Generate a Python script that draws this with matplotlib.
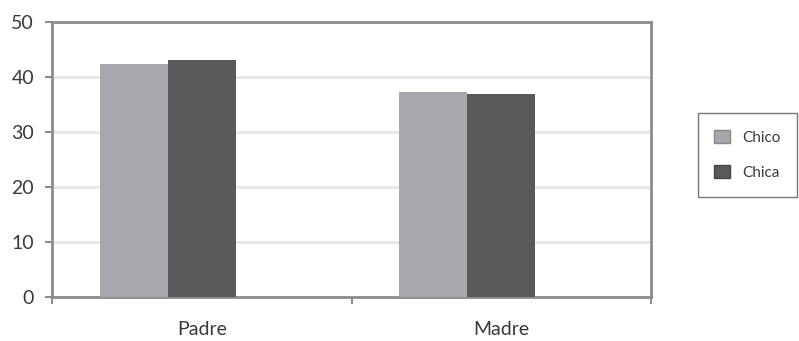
import numpy as np
import matplotlib.pyplot as plt
from matplotlib.patches import Patch

# Datos por progenitor
categorias = ['Padre', 'Madre']
chico = [42.4, 37.3]
chica = [43.1, 36.9]
yticks = [0, 10, 20, 30, 40, 50]

c_chico = '#a7a8ab'
c_chica = '#58595b'
gris = '#8c8c8c'

plt.rcParams['font.family'] = ['Lato', 'DejaVu Sans']

fig = plt.figure(figsize=(7.99, 3.41), dpi=100)
ax = fig.add_axes([52 / 799, 44 / 341, 599 / 799, 275 / 341])

x = np.arange(len(categorias)) + 0.5
w = 0.2267
ax.bar(x - w, chico, width=w, align='center', color=c_chico, zorder=3)
ax.bar(x, chica, width=w, align='center', color=c_chica, zorder=3)

ax.set_xlim(0, 2)
ax.set_ylim(0, 50)
ax.set_yticks(yticks)
ax.set_yticklabels([str(v) for v in yticks])
ax.set_xticks([0, 1, 2])
ax.set_xticklabels([])
ax.set_xticks(x, minor=True)
ax.set_xticklabels(categorias, minor=True)
ax.tick_params(axis='x', which='minor', length=0, pad=17)
ax.tick_params(axis='x', which='major', length=5, width=1.5, color=gris, direction='out')
ax.tick_params(axis='y', length=5, width=1.5, color=gris, pad=8)
for lbl in ax.get_yticklabels() + ax.get_xticklabels(minor=True):
    lbl.set_fontsize(14)
    lbl.set_color('#3a3a3a')

ax.yaxis.grid(True, color='#e6e6e6', linewidth=2, zorder=0)
ax.set_axisbelow(True)
for s in ax.spines.values():
    s.set_color(gris)
    s.set_linewidth(2)

handles = [Patch(facecolor=c_chico, edgecolor='#888888', label='Chico'),
           Patch(facecolor=c_chica, edgecolor='#444444', label='Chica')]
leg = fig.legend(handles=handles, loc='upper right',
                 bbox_to_anchor=(797 / 799, 1 - 113 / 341),
                 frameon=True, fancybox=False, fontsize=11,
                 handlelength=1.0, handleheight=1.0, handletextpad=0.8,
                 borderpad=1.1, labelspacing=1.3, borderaxespad=0)
leg.get_frame().set_edgecolor('#555555')
leg.get_frame().set_linewidth(1)
for t in leg.get_texts():
    t.set_color('#3a3a3a')

fig.savefig('out.png', dpi=100)
